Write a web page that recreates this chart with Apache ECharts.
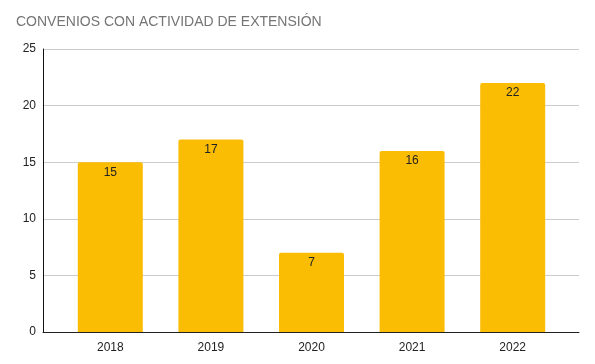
<!DOCTYPE html>
<html><head><meta charset="utf-8">
<script src="https://cdn.jsdelivr.net/npm/echarts@6/dist/echarts.min.js"></script>
<style>html,body{margin:0;padding:0;background:#fff}#c{width:595px;height:364px}</style>
</head><body><div id="c"></div>
<script>
const categories = ['2018', '2019', '2020', '2021', '2022'];
const values = [15, 17, 7, 16, 22];
const yTicks = [0, 5, 10, 15, 20, 25];
const titleText = 'CONVENIOS CON ACTIVIDAD DE EXTENSIÓN';

const chart = echarts.init(document.getElementById('c'), null, {renderer: 'canvas'});
const font = 'Arial, "Liberation Sans", sans-serif';
chart.setOption({
  animation: false,
  title: {text: titleText, left: 11, top: 10,
    textStyle: {fontFamily: font, fontSize: 14, fontWeight: 'normal', color: '#757575'}},
  grid: [
    {left: 43, right: 16, top: 49, bottom: 32},
    {left: 60, right: 32, top: 49, bottom: 32}
  ],
  xAxis: [
    {gridIndex: 0, type: 'value', min: 0, max: 1, show: true,
      axisLine: {show: true, lineStyle: {color: '#222', width: 1}},
      axisTick: {show: false}, axisLabel: {show: false}, splitLine: {show: false}},
    {gridIndex: 1, type: 'category', data: categories,
      axisLine: {show: false}, axisTick: {show: false},
      axisLabel: {color: '#222', fontFamily: font, fontSize: 12, margin: 10}}
  ],
  yAxis: [
    {gridIndex: 0, type: 'value', min: yTicks[0], max: yTicks[yTicks.length - 1], interval: 5,
      axisLine: {show: true, lineStyle: {color: '#111', width: 1}},
      axisTick: {show: false},
      axisLabel: {color: '#222', fontFamily: font, fontSize: 12, margin: 7},
      splitLine: {lineStyle: {color: '#cccccc', width: 1}}},
    {gridIndex: 1, type: 'value', min: yTicks[0], max: yTicks[yTicks.length - 1], interval: 5,
      show: false, splitLine: {show: false}}
  ],
  series: [{
    type: 'bar', xAxisIndex: 1, yAxisIndex: 1, data: values,
    barWidth: 65,
    itemStyle: {color: '#FBBC04', borderRadius: [2, 2, 0, 0]},
    label: {show: true, position: 'insideTop', distance: 4, color: '#222',
      fontFamily: font, fontSize: 12}
  }]
});
</script></body></html>
